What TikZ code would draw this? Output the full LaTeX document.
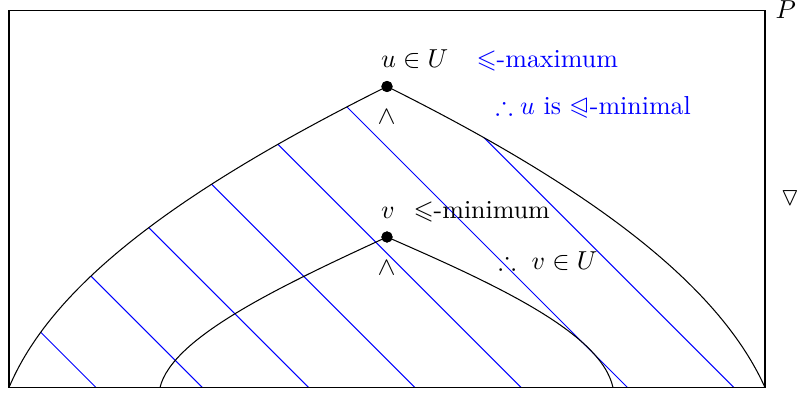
\documentclass[tikz,border=0pt]{standalone}
\usepackage{amssymb}
\usepackage{stmaryrd}
\begin{document}
\begin{tikzpicture}[x=0.385pt,y=-0.385pt,
  lbl/.style={inner sep=0pt, anchor=base west},
  dotnode/.style={circle, fill=black, inner sep=0pt, minimum size=4.3pt},
  hatch/.style={blue, line width=0.4pt},
  curve/.style={black, line width=0.4pt}]
\useasboundingbox (0,0) rectangle (798,394);
\coordinate (tl) at (9,10.5);
\coordinate (br) at (765,387.5);
\coordinate (bl) at (9,387.5);
\coordinate (il) at (160,387.5);
\coordinate (ir) at (613,387.5);
\node[dotnode] (u) at (387,86.5) {};
\node[dotnode] (v) at (387,237) {};
% hatching clipped to outer region
\begin{scope}
  \clip (bl) .. controls (50,290) and (167,196) .. (u.center)
        .. controls (607,196) and (722,292) .. (br) -- cycle;
  \foreach \c in {-291,-184.7,-78.4,27.9,134.2,240.5,346.8}
    \draw[hatch] (\c+387,387.5) -- ++(-420,-420);
\end{scope}
\draw[curve] (tl) rectangle (br);
\draw[curve] (bl) .. controls (50,290) and (167,196) .. (u.center)
      .. controls (607,196) and (722,292) .. (br);
\draw[curve] (il) .. controls (172,338) and (277,287.6) .. (v.center)
      .. controls (497,285) and (601,333) .. (ir);
\node[dotnode] at (u) {};
\node[dotnode] at (v) {};
% labels
\node[lbl] (ul) at (380.5,67.3) {$u\in U$};
\node[lbl, blue] (umax) at (476,67.3) {$\leqslant$-maximum};
\node[lbl, blue] (umin) at (495,115) {$\therefore u$ is $\trianglelefteqslant$-minimal};
\node[inner sep=0pt, rotate=-90] (wu) at (386.7,116.7) {$<$};
\node[lbl] (vl) at (380.5,218.5) {$v$};
\node[lbl] (vmin) at (413,218.5) {$\leqslant$-minimum};
\node[inner sep=0pt, rotate=-90] (wv) at (386.7,268) {$<$};
\node[lbl] (vu) at (498,270) {$\therefore\ v\in U$};
\node[lbl] (P) at (775,18.5) {$P$};
\node[inner sep=0pt] (tri) at (790,198.5) {$\triangledown$};
\end{tikzpicture}
\end{document}
